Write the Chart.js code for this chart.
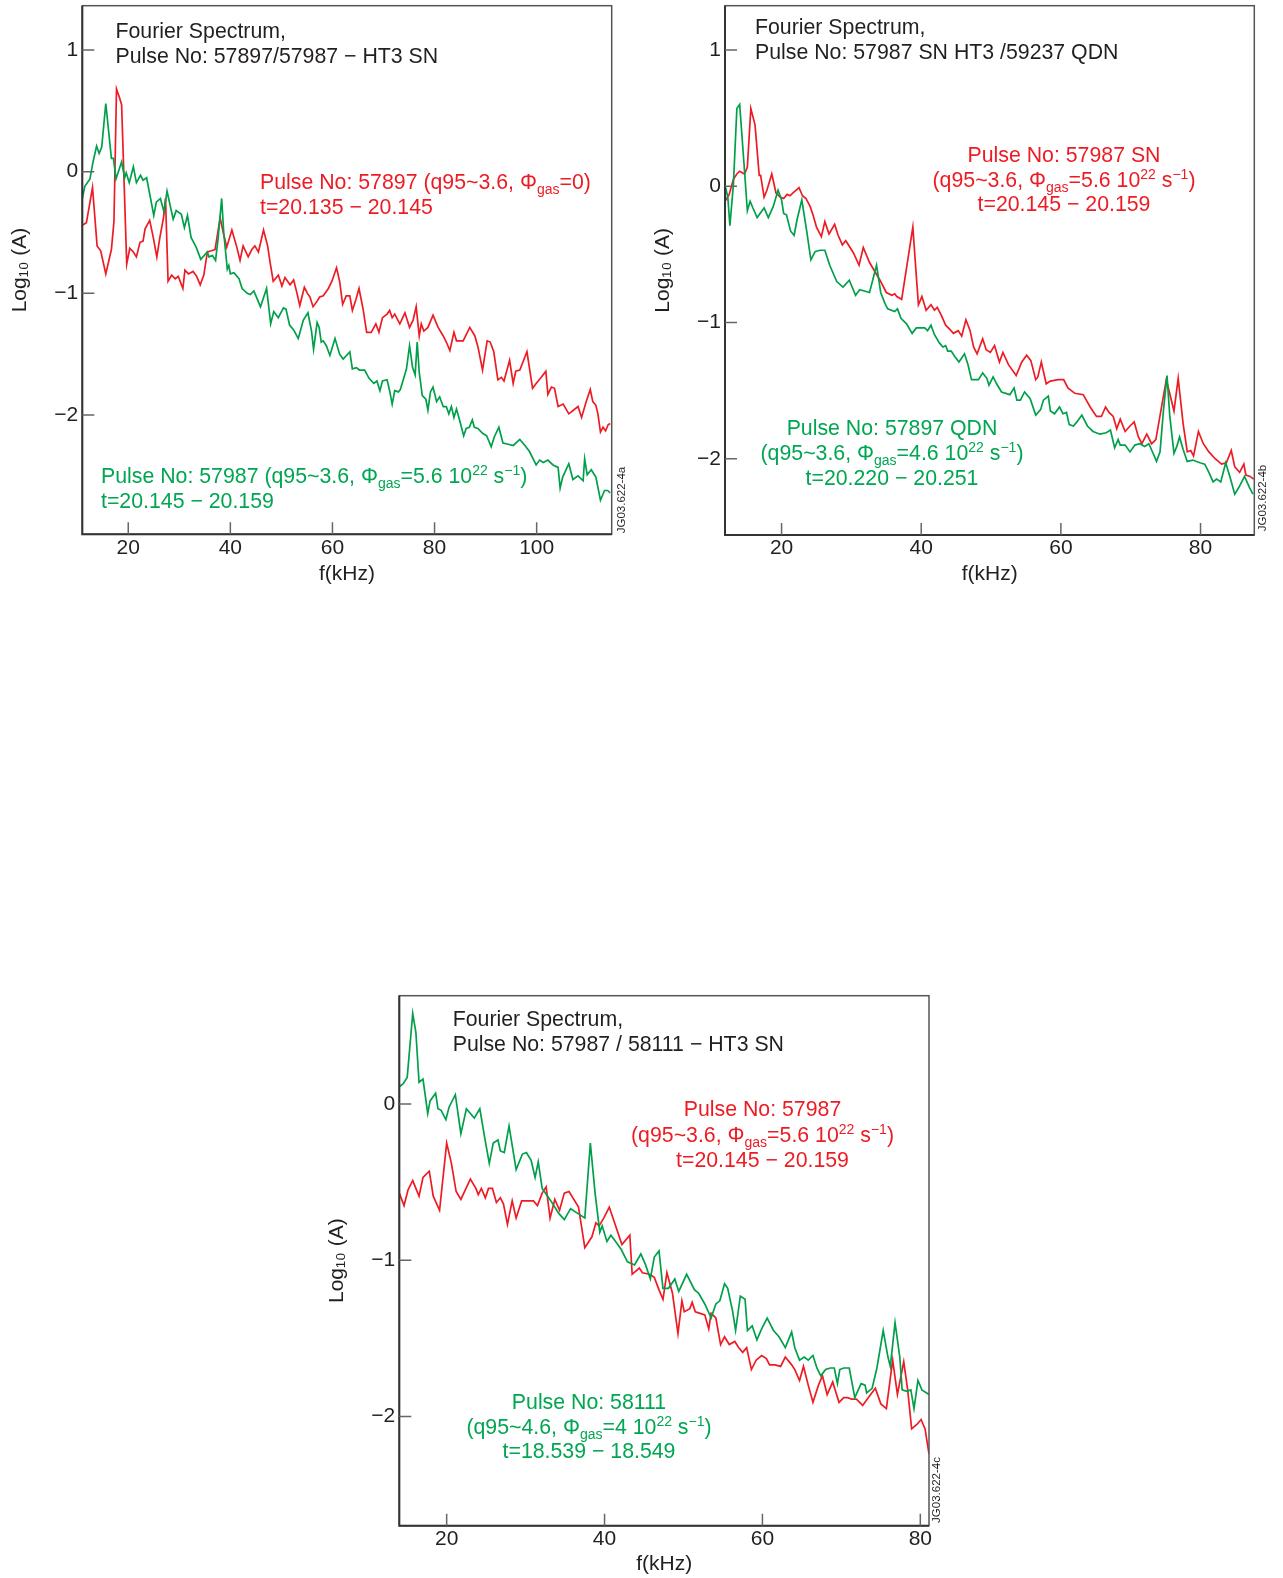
<!DOCTYPE html>
<html>
<head>
<meta charset="utf-8">
<script src="https://cdn.jsdelivr.net/npm/chart.js@4.4.1/dist/chart.umd.min.js"></script>
<style>
  body { margin: 0; background: #fff; }
  #page { position: relative; width: 1283px; height: 1578px; font-family: "Liberation Sans", Arial, sans-serif; color: #231f20; }
  canvas { position: absolute; }
  .note { position: absolute; font-size: 21.3px; line-height: 25px; white-space: nowrap; }
  .center { width: 400px; text-align: center; }
  .red { color: #ed1c24; }
  .green { color: #00a651; }
  sub { font-size: 14px; vertical-align: -5px; line-height: 0; }
  sup { font-size: 14px; vertical-align: 8px; line-height: 0; }
  .tag { position: absolute; width: 90px; height: 14px; line-height: 14px; font-size: 11.5px; text-align: center; transform: rotate(-90deg); }
</style>
</head>
<body>
<div id="page">
  <canvas id="chartA" width="640" height="587" style="left:0;top:0"></canvas>
  <canvas id="chartB" width="643" height="587" style="left:640px;top:0"></canvas>
  <canvas id="chartC" width="640" height="597" style="left:310px;top:980px"></canvas>

  <div class="note" style="left:115.5px;top:18.5px">Fourier Spectrum,<br>Pulse No: 57897/57987 &minus; HT3 SN</div>
  <div class="note red" style="left:260px;top:170px">Pulse No: 57897 (q95~3.6, &Phi;<sub>gas</sub>=0)<br>t=20.135 &minus; 20.145</div>
  <div class="note green" style="left:101px;top:464px">Pulse No: 57987 (q95~3.6, &Phi;<sub>gas</sub>=5.6 10<sup>22</sup> s<sup>&minus;1</sup>)<br>t=20.145 &minus; 20.159</div>
  <div class="tag" style="left:575.5px;top:492.5px">JG03.622-4a</div>

  <div class="note" style="left:755px;top:15px">Fourier Spectrum,<br>Pulse No: 57987 SN HT3 /59237 QDN</div>
  <div class="note red center" style="left:864px;top:143px;line-height:24.5px">Pulse No: 57987 SN<br>(q95~3.6, &Phi;<sub>gas</sub>=5.6 10<sup>22</sup> s<sup>&minus;1</sup>)<br>t=20.145 &minus; 20.159</div>
  <div class="note green center" style="left:692px;top:416px">Pulse No: 57897 QDN<br>(q95~3.6, &Phi;<sub>gas</sub>=4.6 10<sup>22</sup> s<sup>&minus;1</sup>)<br>t=20.220 &minus; 20.251</div>
  <div class="tag" style="left:1217px;top:491px">JG03.622-4b</div>

  <div class="note" style="left:452.7px;top:1007px">Fourier Spectrum,<br>Pulse No: 57987 / 58111 &minus; HT3 SN</div>
  <div class="note red center" style="left:562.5px;top:1097px;line-height:25.5px">Pulse No: 57987<br>(q95~3.6, &Phi;<sub>gas</sub>=5.6 10<sup>22</sup> s<sup>&minus;1</sup>)<br>t=20.145 &minus; 20.159</div>
  <div class="note green center" style="left:389px;top:1390px;line-height:24.5px">Pulse No: 58111<br>(q95~4.6, &Phi;<sub>gas</sub>=4 10<sup>22</sup> s<sup>&minus;1</sup>)<br>t=18.539 &minus; 18.549</div>
  <div class="tag" style="left:891px;top:1483px">JG03.622-4c</div>
</div>

<script>
// panel a: 57897 (red) / 57987 (green), f in kHz, log10(A)
const aRedF = [11.0,11.8,13.0,13.9,14.6,15.6,16.7,17.2,17.7,18.2,18.7,19.7,20.3,21.0,21.6,22.3,22.9,23.3,24.2,24.9,25.6,26.2,26.9,27.3,27.8,28.5,29.2,29.8,30.7,31.1,31.8,32.7,33.4,34.1,34.8,35.5,36.3,37.0,38.0,38.6,39.3,40.3,41.2,41.9,42.5,43.5,44.2,44.8,45.5,46.5,47.3,47.8,48.4,49.4,50.1,50.7,51.7,52.4,53.0,53.6,54.5,55.1,55.6,56.2,56.9,57.5,58.2,59.2,59.9,60.8,61.4,62.0,62.7,63.4,63.9,64.6,65.2,66.0,66.7,67.6,68.5,69.1,69.8,70.7,71.2,71.7,72.2,73.2,74.2,75.1,75.8,76.4,77.0,77.4,77.9,78.7,79.7,80.7,81.7,82.3,83.0,83.8,84.3,85.6,86.9,87.9,88.5,89.4,90.3,90.9,91.6,92.4,93.1,93.6,94.7,95.4,95.9,96.7,98.1,99.2,99.9,100.9,101.8,102.2,102.9,103.5,104.2,105.2,106.3,107.5,108.1,108.8,109.7,110.5,111.0,111.6,112.0,112.5,113.0,113.5,114.0,114.4];
const aRedA = [-0.44,-0.42,-0.13,-0.61,-0.65,-0.84,-0.64,-0.41,0.68,0.62,0.55,-0.76,-0.63,-0.66,-0.70,-0.58,-0.57,-0.47,-0.40,-0.54,-0.70,-0.54,-0.38,-0.22,-0.90,-0.85,-0.88,-0.86,-0.96,-0.81,-0.84,-0.82,-0.86,-0.93,-0.85,-0.66,-0.65,-0.64,-0.38,-0.50,-0.62,-0.48,-0.61,-0.73,-0.61,-0.70,-0.64,-0.61,-0.66,-0.48,-0.61,-0.75,-0.90,-0.85,-0.94,-0.87,-0.93,-0.89,-0.99,-1.10,-0.95,-1.00,-1.03,-1.11,-1.07,-1.03,-1.02,-0.96,-0.90,-0.79,-0.90,-1.09,-1.02,-1.02,-1.14,-1.05,-0.96,-1.13,-1.32,-1.32,-1.25,-1.32,-1.20,-1.17,-1.14,-1.20,-1.17,-1.25,-1.16,-1.28,-1.22,-1.11,-1.35,-1.25,-1.31,-1.28,-1.18,-1.28,-1.35,-1.40,-1.47,-1.32,-1.39,-1.39,-1.28,-1.35,-1.44,-1.63,-1.39,-1.40,-1.48,-1.71,-1.69,-1.72,-1.55,-1.74,-1.64,-1.63,-1.48,-1.78,-1.74,-1.69,-1.64,-1.83,-1.77,-1.78,-1.93,-1.91,-1.99,-1.95,-1.93,-2.02,-1.89,-1.79,-1.89,-1.92,-1.99,-2.14,-2.10,-2.13,-2.08,-2.07];
const aGreenF = [11.0,11.5,12.5,13.1,13.8,14.3,14.8,15.6,16.7,17.1,17.6,18.7,19.3,19.6,20.2,21.0,21.6,22.4,22.9,23.6,25.0,25.5,26.3,27.0,27.6,28.8,29.4,30.4,31.0,31.6,32.3,33.3,34.2,35.5,35.8,36.5,37.1,37.6,38.3,38.7,39.4,39.7,40.0,40.7,41.7,42.3,43.3,43.9,44.6,45.3,45.9,47.1,47.9,48.5,49.4,50.4,50.9,51.6,52.4,53.3,54.3,55.2,55.9,56.3,57.0,57.4,57.8,58.2,58.8,59.5,60.5,61.4,62.1,63.4,63.9,64.7,65.3,66.3,67.2,68.1,68.7,69.3,69.8,70.7,71.2,71.7,72.2,72.9,73.3,73.8,74.5,75.1,75.7,76.2,76.6,77.0,77.6,78.3,78.7,79.2,79.7,80.4,81.0,81.7,82.3,82.8,83.3,83.8,84.3,84.9,85.7,86.2,86.8,87.4,87.8,88.5,89.4,90.2,91.1,91.7,92.6,93.4,94.4,95.4,96.7,97.7,98.6,99.9,100.6,101.3,102.2,103.2,104.2,104.6,105.1,106.3,107.1,108.1,109.1,109.4,109.9,110.7,111.6,112.5,113.3,113.9,114.4];
const aGreenA = [-0.22,-0.12,-0.06,0.08,0.21,0.15,0.20,0.56,0.11,0.11,-0.06,0.08,-0.05,-0.01,-0.09,0.04,-0.09,-0.03,-0.07,-0.05,-0.36,-0.25,-0.22,-0.33,-0.16,-0.39,-0.32,-0.35,-0.46,-0.36,-0.54,-0.62,-0.72,-0.66,-0.70,-0.69,-0.73,-0.55,-0.22,-0.50,-0.80,-0.77,-0.84,-0.83,-0.88,-0.96,-1.00,-1.01,-0.98,-1.05,-1.11,-0.96,-1.25,-1.15,-1.20,-1.12,-1.13,-1.26,-1.30,-1.37,-1.22,-1.16,-1.31,-1.46,-1.24,-1.28,-1.40,-1.39,-1.43,-1.51,-1.37,-1.50,-1.54,-1.48,-1.62,-1.61,-1.63,-1.63,-1.70,-1.74,-1.72,-1.80,-1.72,-1.71,-1.80,-1.91,-1.80,-1.81,-1.79,-1.72,-1.62,-1.43,-1.61,-1.67,-1.40,-1.65,-1.84,-1.87,-1.96,-1.81,-1.77,-1.89,-1.85,-1.93,-1.93,-1.99,-1.93,-2.02,-1.95,-2.04,-2.17,-2.11,-2.10,-2.04,-2.10,-2.11,-2.15,-2.17,-2.26,-2.18,-2.10,-2.23,-2.24,-2.25,-2.20,-2.25,-2.30,-2.41,-2.37,-2.39,-2.37,-2.41,-2.43,-2.60,-2.51,-2.40,-2.53,-2.50,-2.54,-2.36,-2.49,-2.45,-2.51,-2.70,-2.62,-2.62,-2.64];

// panel b: 57987 SN (red) / 57897 QDN (green)
const bRedF = [11.9,12.5,13.1,13.6,14.0,14.7,15.1,15.6,16.2,16.8,17.0,17.5,17.9,18.6,19.2,19.8,20.3,20.8,21.2,21.6,22.5,23.0,23.5,24.1,24.5,25.0,25.7,26.2,26.8,27.6,28.1,28.7,29.2,30.3,31.1,31.7,32.6,33.4,34.1,35.0,35.8,36.2,36.5,37.2,37.9,38.8,39.3,39.6,40.1,40.7,41.4,41.9,42.3,42.9,43.5,44.1,44.6,45.3,45.8,46.4,47.0,47.5,48.0,48.8,49.3,49.9,50.5,51.2,51.7,52.5,53.6,54.4,55.1,55.7,56.4,56.7,57.2,57.9,58.5,59.6,60.4,61.0,62.0,63.2,64.2,65.1,65.8,66.4,66.9,67.5,68.0,68.5,69.2,69.9,70.5,71.1,71.6,72.3,73.0,73.6,75.1,76.2,76.8,77.5,78.1,78.6,79.0,79.7,80.4,81.2,82.1,83.0,83.7,84.4,84.9,85.6,86.2,86.5,87.1,87.6];
const bRedA = [-0.11,-0.06,0.05,0.09,0.11,0.09,0.14,0.57,0.45,0.08,0.08,-0.08,-0.03,0.09,-0.05,-0.08,-0.09,-0.06,-0.07,-0.05,-0.01,-0.07,-0.09,-0.15,-0.21,-0.30,-0.37,-0.26,-0.35,-0.28,-0.36,-0.43,-0.40,-0.49,-0.58,-0.45,-0.56,-0.63,-0.69,-0.78,-0.80,-0.79,-0.81,-0.83,-0.60,-0.30,-0.66,-0.87,-0.81,-0.91,-0.87,-0.91,-0.89,-0.95,-1.02,-1.05,-1.08,-1.06,-1.10,-0.98,-1.06,-1.18,-1.23,-1.12,-1.20,-1.22,-1.17,-1.29,-1.22,-1.31,-1.39,-1.29,-1.24,-1.28,-1.42,-1.40,-1.29,-1.45,-1.43,-1.42,-1.42,-1.48,-1.52,-1.53,-1.62,-1.69,-1.69,-1.62,-1.66,-1.69,-1.78,-1.71,-1.80,-1.76,-1.73,-1.84,-1.89,-1.82,-1.89,-1.86,-1.42,-1.65,-1.41,-1.74,-1.95,-1.94,-1.98,-1.80,-1.89,-1.95,-2.00,-2.04,-2.03,-1.94,-2.06,-2.10,-2.04,-2.12,-2.13,-2.15];
const bGreenF = [11.9,12.3,12.6,13.1,13.6,14.0,14.6,15.1,15.5,15.9,16.5,17.5,18.1,18.8,19.5,20.0,20.3,20.7,21.3,21.8,22.2,22.9,23.6,24.2,24.8,25.5,26.2,26.9,27.9,28.8,29.7,30.6,31.2,32.6,33.6,34.2,34.8,35.2,36.2,36.6,37.1,37.9,38.7,39.3,40.5,40.9,41.4,41.9,42.6,43.1,43.5,43.8,44.3,44.8,45.4,46.2,46.7,47.2,48.2,48.8,49.4,49.7,50.3,50.8,51.5,52.7,53.3,53.7,54.2,54.8,55.6,56.4,57.1,57.5,58.2,58.5,59.1,59.8,60.3,60.8,61.2,61.8,62.3,63.0,63.8,64.6,65.6,66.5,67.1,67.7,68.2,68.5,69.2,69.9,70.6,71.3,72.0,72.6,73.2,73.7,74.2,74.7,75.2,75.6,76.2,76.6,77.0,77.5,78.1,78.9,79.9,80.6,81.2,81.8,82.3,82.9,83.6,84.2,84.9,85.5,86.3,87.0,87.5];
const bGreenA = [0.01,-0.08,-0.29,0.01,0.57,0.60,0.18,-0.18,-0.11,-0.16,-0.23,-0.16,-0.23,-0.15,-0.03,-0.10,-0.20,-0.21,-0.33,-0.36,-0.25,-0.10,-0.33,-0.54,-0.48,-0.47,-0.47,-0.58,-0.70,-0.74,-0.69,-0.80,-0.76,-0.78,-0.58,-0.78,-0.86,-0.90,-0.92,-0.90,-0.97,-1.01,-1.08,-1.04,-1.04,-1.06,-1.02,-1.09,-1.15,-1.18,-1.17,-1.21,-1.21,-1.25,-1.29,-1.23,-1.31,-1.42,-1.42,-1.37,-1.41,-1.46,-1.40,-1.45,-1.51,-1.53,-1.48,-1.57,-1.57,-1.51,-1.56,-1.68,-1.64,-1.57,-1.54,-1.65,-1.67,-1.62,-1.67,-1.66,-1.75,-1.76,-1.73,-1.68,-1.76,-1.80,-1.82,-1.81,-1.79,-1.92,-1.86,-1.90,-1.90,-1.95,-1.90,-1.89,-1.91,-1.89,-1.96,-2.02,-1.95,-1.64,-1.39,-1.69,-1.96,-1.91,-1.84,-1.93,-2.02,-2.01,-2.03,-2.04,-2.10,-2.17,-2.15,-2.17,-2.03,-2.13,-2.26,-2.21,-2.13,-2.21,-2.26];

// panel c: 57987 (red) / 58111 (green)
const cRedF = [14.0,14.6,15.1,15.7,16.1,16.5,17.0,17.8,18.3,19.1,20.0,20.6,21.2,21.8,23.0,23.7,24.0,24.4,24.9,25.3,25.8,26.3,26.8,27.2,27.7,28.3,28.8,29.5,30.3,31.0,31.5,32.1,32.6,33.1,33.7,34.3,34.9,35.5,36.7,37.5,38.4,38.9,39.3,39.9,40.6,41.0,42.2,43.2,43.5,44.4,44.8,45.7,46.3,46.9,47.4,47.9,48.6,49.3,49.8,50.1,50.8,51.1,51.5,52.1,52.7,53.2,53.5,54.1,54.7,55.2,55.8,56.5,57.0,57.5,58.0,58.6,59.2,59.9,60.5,60.9,61.6,62.3,62.9,63.7,64.1,64.7,65.2,65.8,66.4,67.1,67.6,68.2,68.9,69.7,70.3,70.8,71.3,71.9,72.7,73.4,74.3,75.0,75.7,76.5,77.1,77.9,78.4,78.9,79.6,80.1,80.6,81.1];
const cRedA = [-0.57,-0.65,-0.55,-0.49,-0.54,-0.59,-0.47,-0.43,-0.59,-0.68,-0.25,-0.38,-0.56,-0.61,-0.48,-0.54,-0.58,-0.54,-0.60,-0.54,-0.54,-0.63,-0.60,-0.64,-0.77,-0.62,-0.73,-0.62,-0.62,-0.62,-0.65,-0.57,-0.53,-0.73,-0.61,-0.68,-0.57,-0.56,-0.66,-0.92,-0.85,-0.76,-0.78,-0.73,-0.66,-0.72,-0.90,-0.84,-1.09,-1.05,-1.08,-1.09,-1.11,-1.19,-1.25,-1.08,-1.21,-1.47,-1.26,-1.33,-1.31,-1.27,-1.33,-1.34,-1.35,-1.44,-1.34,-1.37,-1.54,-1.49,-1.54,-1.52,-1.56,-1.59,-1.56,-1.70,-1.64,-1.61,-1.63,-1.67,-1.67,-1.68,-1.62,-1.67,-1.70,-1.77,-1.68,-1.80,-1.91,-1.80,-1.74,-1.86,-1.78,-1.91,-1.88,-1.88,-1.89,-1.89,-1.93,-1.88,-1.82,-1.92,-1.95,-1.64,-1.86,-1.65,-1.83,-2.08,-2.05,-2.02,-2.08,-2.24];
const cGreenF = [14.0,14.5,15.0,15.7,16.1,16.5,17.0,17.6,17.9,18.6,18.9,19.3,19.9,20.3,21.1,21.8,22.5,23.5,24.2,24.8,25.4,25.9,26.5,26.8,27.3,27.9,28.8,29.6,30.1,30.7,31.2,31.6,32.1,33.2,34.2,34.9,35.7,36.6,37.5,38.2,38.8,39.4,39.7,40.3,40.8,41.4,42.1,42.9,43.8,44.6,45.2,45.8,46.3,46.9,47.4,48.1,48.9,49.4,50.4,51.4,51.9,52.7,53.5,54.1,54.6,55.2,55.6,56.2,56.6,57.2,57.8,58.1,58.7,59.3,59.9,60.6,61.4,62.1,62.9,63.7,64.1,64.7,65.3,65.8,66.4,66.9,67.4,68.0,68.6,69.1,69.5,69.8,70.3,71.0,71.7,72.5,73.0,73.2,73.9,74.5,75.3,75.9,76.2,76.8,77.4,77.7,78.3,78.8,79.2,79.7,80.2,81.1];
const cGreenA = [0.11,0.13,0.17,0.58,0.46,0.14,0.16,-0.06,0.02,0.07,-0.03,-0.04,-0.10,-0.02,0.06,-0.19,-0.03,-0.09,-0.03,-0.21,-0.38,-0.25,-0.23,-0.30,-0.31,-0.14,-0.42,-0.32,-0.31,-0.36,-0.47,-0.37,-0.54,-0.62,-0.70,-0.74,-0.67,-0.70,-0.73,-0.25,-0.57,-0.82,-0.78,-0.88,-0.84,-0.88,-0.93,-1.01,-1.03,-0.96,-1.03,-1.12,-0.98,-0.94,-1.18,-1.18,-1.12,-1.20,-1.09,-1.19,-1.21,-1.28,-1.37,-1.28,-1.26,-1.15,-1.18,-1.32,-1.45,-1.23,-1.25,-1.45,-1.42,-1.51,-1.44,-1.37,-1.45,-1.49,-1.56,-1.46,-1.56,-1.64,-1.62,-1.64,-1.61,-1.69,-1.74,-1.70,-1.69,-1.69,-1.79,-1.70,-1.69,-1.69,-1.88,-1.79,-1.80,-1.85,-1.82,-1.69,-1.45,-1.62,-1.68,-1.40,-1.62,-1.83,-1.84,-1.83,-1.95,-1.77,-1.83,-1.86];

const RED = '#ed1c24';
const GREEN = '#00a04b';
const INK = '#231f20';
const FONT = { family: '"Liberation Sans", Arial, sans-serif', size: 21 };

// box round the plot plus the short inward tick marks
const frame = {
  id: 'frame',
  afterDraw(chart) {
    const { ctx, chartArea: a, scales } = chart;
    ctx.save();
    ctx.strokeStyle = '#555';
    ctx.lineWidth = 1.5;
    ctx.strokeRect(a.left, a.top, a.right - a.left, a.bottom - a.top);
    ctx.strokeStyle = '#333';
    ctx.lineWidth = 2;
    ctx.beginPath();
    ctx.moveTo(a.left, a.top);
    ctx.lineTo(a.left, a.bottom);
    ctx.lineTo(a.right, a.bottom);
    ctx.stroke();
    ctx.strokeStyle = '#666';
    ctx.lineWidth = 1.5;
    ctx.beginPath();
    scales.y.ticks.forEach(t => {
      const y = scales.y.getPixelForValue(t.value);
      ctx.moveTo(a.left, y);
      ctx.lineTo(a.left + 12, y);
    });
    scales.x.ticks.forEach(t => {
      const x = scales.x.getPixelForValue(t.value);
      ctx.moveTo(x, a.bottom);
      ctx.lineTo(x, a.bottom - 12);
    });
    ctx.stroke();
    ctx.restore();
  }
};

function pts(xs, ys) {
  return xs.map((x, i) => ({ x: x, y: ys[i] }));
}

function spectrum(id, p) {
  new Chart(document.getElementById(id), {
    type: 'line',
    data: {
      datasets: [
        { data: pts(p.gx, p.gy), borderColor: GREEN },
        { data: pts(p.rx, p.ry), borderColor: RED }
      ]
    },
    options: {
      responsive: false,
      animation: false,
      layout: { padding: { top: p.top, right: p.right, left: 0, bottom: 0 } },
      elements: { point: { radius: 0 }, line: { borderWidth: 1.7, tension: 0 } },
      plugins: { legend: { display: false }, tooltip: { enabled: false } },
      scales: {
        x: {
          type: 'linear',
          min: p.xmin, max: p.xmax,
          afterFit: s => { s.height = p.xh; s.paddingLeft = 0; s.paddingRight = 0; },
          grid: { display: false, drawTicks: false },
          border: { display: false },
          ticks: { stepSize: 20, includeBounds: false, padding: 1, color: INK, font: FONT, maxRotation: 0 },
          title: { display: true, text: 'f(kHz)', color: INK, font: FONT, padding: 0 }
        },
        y: {
          min: p.ymin, max: p.ymax,
          afterFit: s => { s.width = p.yw; s.paddingTop = 0; s.paddingBottom = 0; },
          grid: { display: false, drawTicks: false },
          border: { display: false },
          ticks: {
            stepSize: 1, includeBounds: false, padding: 4, color: INK, font: FONT,
            callback: v => String(v).replace('-', '\u2212')
          },
          title: { display: true, text: 'Log\u2081\u2080 (A)', color: INK, font: FONT, padding: { top: p.tpad, bottom: 0 } }
        }
      }
    },
    plugins: [frame]
  });
}

spectrum('chartA', {
  rx: aRedF, ry: aRedA, gx: aGreenF, gy: aGreenA,
  xmin: 11, xmax: 114.7, ymin: -2.98, ymax: 1.364,
  top: 5.7, right: 28.3, yw: 82.3, xh: 52.7, tpad: 7.6
});
spectrum('chartB', {
  rx: bRedF, ry: bRedA, gx: bGreenF, gy: bGreenA,
  xmin: 11.9, xmax: 87.7, ymin: -2.56, ymax: 1.325,
  top: 5.7, right: 28.7, yw: 85, xh: 52, tpad: 10.4
});
spectrum('chartC', {
  rx: cRedF, ry: cRedA, gx: cGreenF, gy: cGreenA,
  xmin: 14, xmax: 81.1, ymin: -2.70, ymax: 0.694,
  top: 15.7, right: 21, yw: 89.3, xh: 51.3, tpad: 14.9
});
</script>
</body>
</html>
